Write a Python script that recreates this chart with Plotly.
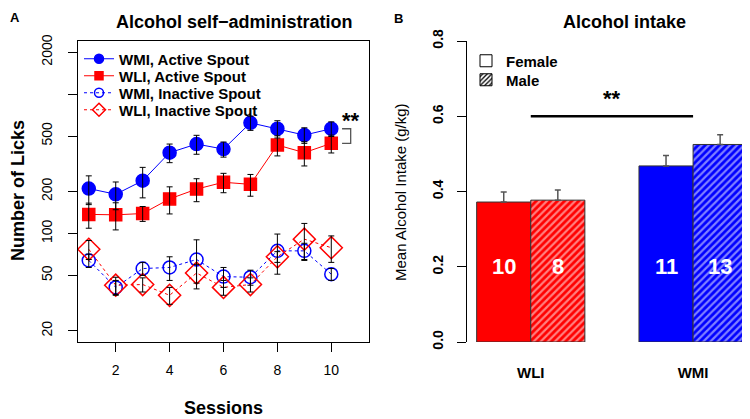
import plotly.graph_objects as go

# panel A: licks per session (means +/- sem)
sessions = list(range(1, 11))
wmi_active = [210, 191, 239, 380, 438, 403, 622, 564, 508, 564]
wmi_active_sem = [49, 43, 59, 58, 68, 50, 73, 80, 65, 68]
wli_active = [137, 136, 139, 177, 208, 233, 225, 431, 380, 443]
wli_active_sem = [28, 30, 17, 39, 39, 37, 40, 71, 75, 65]
wmi_inactive = [64, 41, 56, 57, 65, 49, 48.5, 75, 75, 51]
wmi_inactive_sem = [7, 5, 6, 11, 25, 8, 6, 24, 10, 5]
wli_inactive = [77, 42.5, 43, 36, 52, 41, 43, 68, 91, 79]
wli_inactive_sem = [12, 6, 5, 5, 8, 5, 5, 6, 27, 17]
lick_ticks = [20, 50, 100, 200, 500, 1000, 2000]
lick_ticktext = ["20", "50", "100", "200", "500", "", "2000"]

# panel B: alcohol intake (g/kg)
lines = ["WLI", "WMI"]
female_intake = [0.372, 0.468]
female_sem = [0.027, 0.028]
male_intake = [0.377, 0.525]
male_sem = [0.027, 0.026]
female_n = [10, 11]
male_n = [8, 13]

FONT = "Liberation Sans, Arial, sans-serif"
W, H = 750, 419
BLUE, RED = "#0000ff", "#ff0000"
OFF = 8  # page body margin: the figure is drawn 8px right/down of the window corner

def px_x(p):
    return (p - OFF) / W

def px_y(p):
    return 1 - (p - OFF) / H

fig = go.Figure()

# ---- panel A ----
series = [
    ("WMI, Active Spout", wmi_active, wmi_active_sem, BLUE, "circle", 13, 9, "solid"),
    ("WLI, Active Spout", wli_active, wli_active_sem, RED, "square", 12, 8, "solid"),
    ("WMI, Inactive Spout", wmi_inactive, wmi_inactive_sem, BLUE, "circle-open", 13, 9, "3px,3px"),
    ("WLI, Inactive Spout", wli_inactive, wli_inactive_sem, RED, "diamond-open", 17, 10, "3px,3px"),
]
legend_ids = ["legend", "legend3", "legend4", "legend5"]
for name, vals, sem, col, sym, size, lsize, dash in series:
    fig.add_trace(go.Scatter(
        x=sessions, y=vals, name=name, mode="lines+markers", showlegend=False,
        line=dict(color=col, width=1, dash=dash),
        marker=dict(symbol=sym, size=size, color=col, line=dict(color=col, width=1.5)),
        xaxis="x", yaxis="y"))
# error bars drawn on top of the markers
for name, vals, sem, col, sym, size, lsize, dash in series:
    fig.add_trace(go.Scatter(
        x=sessions, y=vals, mode="markers", showlegend=False,
        marker=dict(size=1, color="rgba(0,0,0,0)"),
        error_y=dict(type="data", array=sem, color="black", thickness=1, width=3),
        xaxis="x", yaxis="y"))
# legend entries with small symbols, one legend per row
for (name, vals, sem, col, sym, size, lsize, dash), lid in zip(series, legend_ids):
    fig.add_trace(go.Scatter(
        x=[None], y=[None], name=name, mode="lines+markers", legend=lid,
        line=dict(color=col, width=1, dash=dash),
        marker=dict(symbol=sym, size=lsize, color=col, line=dict(color=col, width=1.5)),
        xaxis="x", yaxis="y"))

# bracket between the active-spout curves at the last session
fig.add_trace(go.Scatter(
    x=[sessions[-1] + 0.4, sessions[-1] + 0.72, sessions[-1] + 0.72, sessions[-1] + 0.4],
    y=[wmi_active[-1], wmi_active[-1], wli_active[-1], wli_active[-1]],
    mode="lines", line=dict(color="#555555", width=1.3), showlegend=False,
    xaxis="x", yaxis="y"))

# ---- panel B ----
fig.add_trace(go.Bar(
    x=lines, y=female_intake, offsetgroup="f", showlegend=False,
    marker=dict(color=[RED, BLUE], line=dict(color="#333333", width=1)),
    error_y=dict(type="data", symmetric=False, array=female_sem, arrayminus=[0, 0],
                 color="#555555", thickness=1.5, width=3),
    xaxis="x2", yaxis="y2"))
fig.add_trace(go.Bar(
    x=lines, y=male_intake, offsetgroup="m", showlegend=False,
    marker=dict(color=[RED, BLUE], line=dict(color="#333333", width=1),
                pattern=dict(shape="/", fgcolor="white", bgcolor=[RED, BLUE],
                             size=5, solidity=0.45, fillmode="overlay")),
    error_y=dict(type="data", symmetric=False, array=male_sem, arrayminus=[0, 0],
                 color="#555555", thickness=1.5, width=3),
    xaxis="x2", yaxis="y2"))
# legend entries for sex
fig.add_trace(go.Bar(
    x=[None], y=[None], name="Female", offsetgroup="f", legend="legend2",
    marker=dict(color="white", line=dict(color="black", width=1)),
    xaxis="x2", yaxis="y2"))
fig.add_trace(go.Bar(
    x=[None], y=[None], name="Male", offsetgroup="m", legend="legend6",
    marker=dict(color="white", line=dict(color="black", width=1),
                pattern=dict(shape="/", fgcolor="black", bgcolor="white", size=4, solidity=0.4)),
    xaxis="x2", yaxis="y2"))

# significance line between lines
fig.add_trace(go.Scatter(
    x=lines, y=[0.6, 0.6], mode="lines", line=dict(color="black", width=2.5),
    showlegend=False, xaxis="x2", yaxis="y2"))

annotations = [
    dict(text="<b>A</b>", x=px_x(8), y=px_y(8), font=dict(size=13), xanchor="left", yanchor="top"),
    dict(text="<b>B</b>", x=px_x(398), y=px_y(9), font=dict(size=13), yanchor="top"),
    dict(text="<b>Alcohol self\u2212administration</b>", x=px_x(235), y=px_y(22), font=dict(size=18)),
    dict(text="<b>Alcohol intake</b>", x=px_x(624), y=px_y(22), font=dict(size=18)),
    dict(text="<b>Number of Licks</b>", x=px_x(18), y=px_y(191), textangle=-90, font=dict(size=18)),
    dict(text="<b>Sessions</b>", x=px_x(223), y=px_y(408), font=dict(size=18)),
    dict(text="Mean Alcohol Intake (g/kg)", x=px_x(400), y=px_y(192), textangle=-90, font=dict(size=15)),
    dict(text="<b>**</b>", x=px_x(612), y=px_y(98), font=dict(size=22)),
]
for a in annotations:
    a.setdefault("xanchor", "center")
    a.setdefault("yanchor", "middle")
    a.update(xref="paper", yref="paper", showarrow=False)
annotations.append(dict(text="<b>**</b>", xref="x", yref="y", x=sessions[-1] + 0.72, y=2.81,
                        showarrow=False, font=dict(size=22), xanchor="center", yanchor="middle"))
# n per group, written inside the bars
for i, cat in enumerate(lines):
    for n, shift in ((female_n[i], -1 / 6), (male_n[i], 1 / 6)):
        annotations.append(dict(text="<b>%d</b>" % n, xref="x2", yref="y2", x=i + shift, y=0.2,
                                showarrow=False, font=dict(size=22, color="white"),
                                xanchor="center", yanchor="middle"))

axis_common = dict(showgrid=False, zeroline=False, linecolor="black", linewidth=1,
                   ticks="outside", ticklen=9, tickcolor="black", tickwidth=1, automargin=False)

legend_common = dict(xanchor="left", yanchor="middle", bgcolor="rgba(0,0,0,0)",
                     borderwidth=0, itemwidth=30)
lick_legend_font = dict(size=15, weight="bold")
sex_legend_font = dict(size=15, weight="bold")

fig.update_layout(
    template="none",
    width=W, height=H, margin=dict(l=0, r=0, t=0, b=0, pad=0, autoexpand=False),
    paper_bgcolor="white", plot_bgcolor="white",
    font=dict(family=FONT, color="black"),
    barmode="group", bargap=1 / 3, bargroupgap=0,
    xaxis=dict(domain=[px_x(78), px_x(369)], range=[0.6, 11.4], tickvals=[2, 4, 6, 8, 10],
               showline=True, mirror=True, anchor="y", tickfont=dict(size=14),
               ticklabelstandoff=6, **axis_common),
    yaxis=dict(domain=[px_y(342), px_y(41)], type="log", range=[1.221, 3.381],
               tickvals=lick_ticks, ticktext=lick_ticktext, tickangle=-90,
               showline=True, mirror=True, anchor="x", tickfont=dict(size=14),
               ticklabelstandoff=10, **axis_common),
    xaxis2=dict(domain=[px_x(466.5), px_x(758)], range=[-0.396, 1.40], type="category",
                showline=False, ticks="", showgrid=False, zeroline=False, anchor="y2",
                tickfont=dict(size=15, family=FONT), ticklabelstandoff=20, automargin=False,
                tickvals=lines, ticktext=["<b>%s</b>" % c for c in lines]),
    yaxis2=dict(domain=[px_y(342), px_y(41)], range=[0, 0.8], tickvals=[0, 0.2, 0.4, 0.6, 0.8],
                tickformat=".1f", tickangle=-90, showline=True, anchor="x2",
                tickfont=dict(size=14, weight="bold"), ticklabelstandoff=8, **axis_common),
    legend=dict(x=px_x(79), y=px_y(59), font=lick_legend_font, **legend_common),
    legend3=dict(x=px_x(79), y=px_y(76), font=lick_legend_font, **legend_common),
    legend4=dict(x=px_x(79), y=px_y(93), font=lick_legend_font, **legend_common),
    legend5=dict(x=px_x(79), y=px_y(110), font=lick_legend_font, **legend_common),
    legend2=dict(x=px_x(466), y=px_y(61), font=sex_legend_font, **legend_common),
    legend6=dict(x=px_x(466), y=px_y(80), font=sex_legend_font, **legend_common),
    annotations=annotations,
)

fig.write_html("out.html")
